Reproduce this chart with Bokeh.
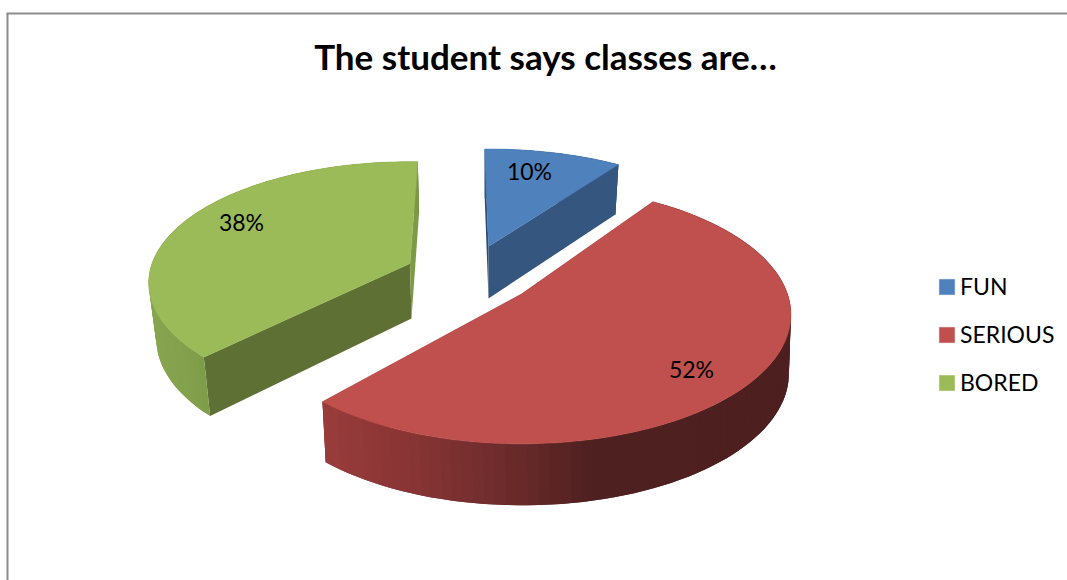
import math
from bokeh.plotting import figure
from bokeh.models import Range1d, Legend, LegendItem
from bokeh.core.properties import value
from bokeh.embed import file_html
from bokeh.resources import INLINE

TITLE = "The student says classes are…"
CATEGORIES = ["FUN", "SERIOUS", "BORED"]
VALUES = [10, 52, 38]

TOP_COLORS = ["#4f81bd", "#c0504d", "#9bbb59"]
START_ANGLE = 35.0 - 36.0
ANGLE_TWEAK = [0.0, -1.0, 3.0]
PERSPECTIVE = 0.159
# per-slice projection: (cx, cy, a, b) of top face and bottom face
TOP_PROJ = [(488, 246, 256, 113), (521, 293.5, 266, 126), (409.5, 263, 258, 118)]
BOTTOM_PROJ = [(488, 298, 250, 116), (522, 352, 263, 128.5), (411, 318, 252, 123)]
WALL_STOPS = [
    [(480, "#34567f"), (620, "#34567f")],
    [(320, "#9a3c3c"), (420, "#873434"), (520, "#692a2a"), (600, "#4e2020"), (800, "#4d1f1f")],
    [(150, "#87a54f"), (195, "#82a04c"), (212, "#7a9747"), (420, "#7a9747")],
]
RADIAL_COLORS = [("#2c4a6e", "#34567f"), ("#8c3836", "#8c3836"), ("#5f7035", "#7d9a47")]
LABEL_POS = [(529, 170), (691, 368), (241, 221)]


def project(deg, proj):
    cx, cy, a, b = proj
    t = math.radians(deg)
    u, v = math.sin(t), -math.cos(t)
    s = 1.0 / (1.0 - PERSPECTIVE * v)
    return cx + a * u * s, cy + b * v * s


def mix(stops, x):
    if x <= stops[0][0]:
        return stops[0][1]
    for (x0, c0), (x1, c1) in zip(stops, stops[1:]):
        if x <= x1:
            f = (x - x0) / (x1 - x0)
            rgb = [round(int(c0[i:i+2], 16) * (1 - f) + int(c1[i:i+2], 16) * f) for i in (1, 3, 5)]
            return "#%02x%02x%02x" % tuple(rgb)
    return stops[-1][1]


p = figure(width=1067, height=580, x_range=Range1d(0, 1067), y_range=Range1d(580, 0),
           output_backend="svg", toolbar_location=None, min_border=0,
           x_axis_type=None, y_axis_type=None)
p.grid.visible = False
p.outline_line_color = None

# chart border (top and left edges)
p.line([7, 7], [580, 13], line_color="#8c8c8c", line_width=2)
p.line([6, 1067], [13, 13], line_color="#8c8c8c", line_width=2)

# angular extents from values
total = sum(VALUES)
extents = []
angle = START_ANGLE
for val, tweak in zip(VALUES, ANGLE_TWEAK):
    sweep = 360.0 * val / total
    extents.append((angle + tweak, angle + sweep + tweak))
    angle += sweep

top_renderers = {}
for i in (2, 0, 1):
    a0, a1 = extents[i]
    tp, bp = TOP_PROJ[i], BOTTOM_PROJ[i]
    n = max(8, int((a1 - a0) / 2.0))
    angles = [a0 + (a1 - a0) * k / n for k in range(n + 1)]
    # radial walls
    for ang, col in zip((a0, a1), RADIAL_COLORS[i]):
        t1, b1 = project(ang, tp), project(ang, bp)
        p.patch([tp[0], t1[0], b1[0], bp[0]], [tp[1], t1[1], b1[1], bp[1]],
                fill_color=col, line_color=None)
    # outer wall with gradient: each band overlaps the next one to avoid seams
    xs, ys, cols = [], [], []
    for k in range(n):
        far = angles[min(k + 2, n)]
        t0, t1 = project(angles[k], tp), project(far, tp)
        tm = project((angles[k] + far) / 2, tp)
        b0, b1 = project(angles[k], bp), project(far, bp)
        bm = project((angles[k] + far) / 2, bp)
        xs.append([t0[0], tm[0], t1[0], b1[0], bm[0], b0[0]])
        ys.append([t0[1], tm[1], t1[1], b1[1], bm[1], b0[1]])
        cols.append(mix(WALL_STOPS[i], project(angles[k], tp)[0]))
    p.patches(xs, ys, fill_color=cols, line_color=None)
    # top face
    pts = [project(g, tp) for g in angles]
    r = p.patch([tp[0]] + [q[0] for q in pts], [tp[1]] + [q[1] for q in pts],
                fill_color=TOP_COLORS[i], line_color=TOP_COLORS[i], line_width=0.5)
    top_renderers[i] = r

# percent labels
for val, (lx, ly) in zip(VALUES, LABEL_POS):
    p.text([lx], [ly], text=[f"{val}%"], text_align="center", text_baseline="middle",
           text_font=value("Lato"), text_font_size="23px", text_color="#000000")

p.text([545], [55], text=[TITLE], text_align="center", text_baseline="middle",
       text_font=value("Lato"), text_font_style="bold", text_font_size="35px", text_color="#000000")

legend = Legend(items=[LegendItem(label=c, renderers=[top_renderers[i]]) for i, c in enumerate(CATEGORIES)],
                location=(937, 184), orientation="vertical", spacing=20, padding=0, margin=0,
                glyph_width=19, glyph_height=19, label_standoff=4, label_height=20,
                label_text_font="Lato", label_text_font_size="23px", label_text_color="#000000",
                border_line_color=None, background_fill_alpha=0, click_policy="none")
p.add_layout(legend)

open("out.html", "w").write(file_html(p, INLINE))
